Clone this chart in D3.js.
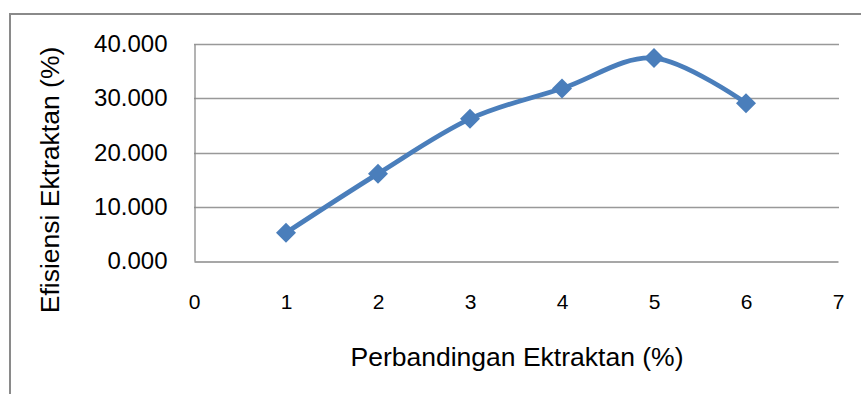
<!DOCTYPE html>
<html>
<head>
<meta charset="utf-8">
<script src="https://cdn.jsdelivr.net/npm/d3@7"></script>
<style>
  html, body { margin: 0; padding: 0; background: #fff; }
  svg { display: block; }
  text { font-family: "Liberation Sans", Arial, sans-serif; fill: #000; }
</style>
</head>
<body>
<svg id="chart" width="861" height="394"></svg>
<script>
// Extractant ratio (x) against extraction efficiency (y)
const ratios = [1, 2, 3, 4, 5, 6];
const efficiency = [5.2, 16.1, 26.2, 31.8, 37.4, 29.1];
const xTicks = [0, 1, 2, 3, 4, 5, 6, 7];
const yTicks = [0, 10, 20, 30, 40];
const xTitle = "Perbandingan Ektraktan (%)";
const yTitle = "Efisiensi Ektraktan (%)";

const svg = d3.select("#chart");
const plot = { left: 194, right: 838, top: 44, bottom: 261 };

const x = d3.scaleLinear().domain([0, 7]).range([plot.left, plot.right]);
const y = d3.scaleLinear().domain([0, 40]).range([plot.bottom, plot.top]);

// chart frame (only the top and left edges fall inside the view)
svg.append("rect")
  .attr("x", 10).attr("y", 14)
  .attr("width", 900).attr("height", 420)
  .attr("fill", "none")
  .attr("stroke", "#8a8a8a")
  .attr("stroke-width", 2);

// horizontal gridlines
svg.append("g")
  .selectAll("line")
  .data(yTicks.filter(d => d > 0))
  .join("line")
  .attr("x1", plot.left).attr("x2", plot.right + 1)
  .attr("y1", d => Math.round(y(d)) + 0.5)
  .attr("y2", d => Math.round(y(d)) + 0.5)
  .attr("stroke", "#999")
  .attr("stroke-width", 1.3);

// y axis
const yAxis = svg.append("g")
  .attr("transform", `translate(${plot.left + 0.5},0)`)
  .call(d3.axisLeft(y).tickValues(yTicks).tickSize(0).tickPadding(27)
    .tickFormat(d3.format(".3f")));
yAxis.select(".domain").attr("stroke", "#8a8a8a").attr("stroke-width", 1.3);
yAxis.selectAll("text")
  .style("font-size", "24px")
  .attr("fill", "#1a1a1a");

// x axis
const xAxis = svg.append("g")
  .attr("transform", `translate(0,${Math.round(plot.bottom) + 0.5})`)
  .call(d3.axisBottom(x).tickValues(xTicks).tickSize(0).tickPadding(33)
    .tickFormat(d3.format("d")));
xAxis.select(".domain").attr("stroke", "#8a8a8a").attr("stroke-width", 1.3);
xAxis.selectAll("text")
  .style("font-size", "21px")
  .attr("fill", "#1a1a1a");

// axis titles
svg.append("text")
  .attr("transform", `translate(59,180) rotate(-90)`)
  .attr("text-anchor", "middle")
  .style("font-size", "26.5px")
  .text(yTitle);

svg.append("text")
  .attr("x", 517).attr("y", 366)
  .attr("text-anchor", "middle")
  .style("font-size", "26.5px")
  .text(xTitle);

// smoothed series line
const pts = ratios.map((r, i) => [r, efficiency[i]]);
const line = d3.line()
  .x(d => x(d[0]))
  .y(d => y(d[1]))
  .curve(d3.curveCardinal.tension(0));

svg.append("path")
  .datum(pts)
  .attr("d", line)
  .attr("fill", "none")
  .attr("stroke", "#4a7ebb")
  .attr("stroke-width", 4.8)
  .attr("stroke-linejoin", "round");

// diamond markers
svg.append("g")
  .selectAll("path")
  .data(pts)
  .join("path")
  .attr("transform", d => `translate(${x(d[0])},${y(d[1])}) rotate(45)`)
  .attr("d", d3.symbol(d3.symbolSquare, 200))
  .attr("fill", "#4a7ebb");
</script>
</body>
</html>
